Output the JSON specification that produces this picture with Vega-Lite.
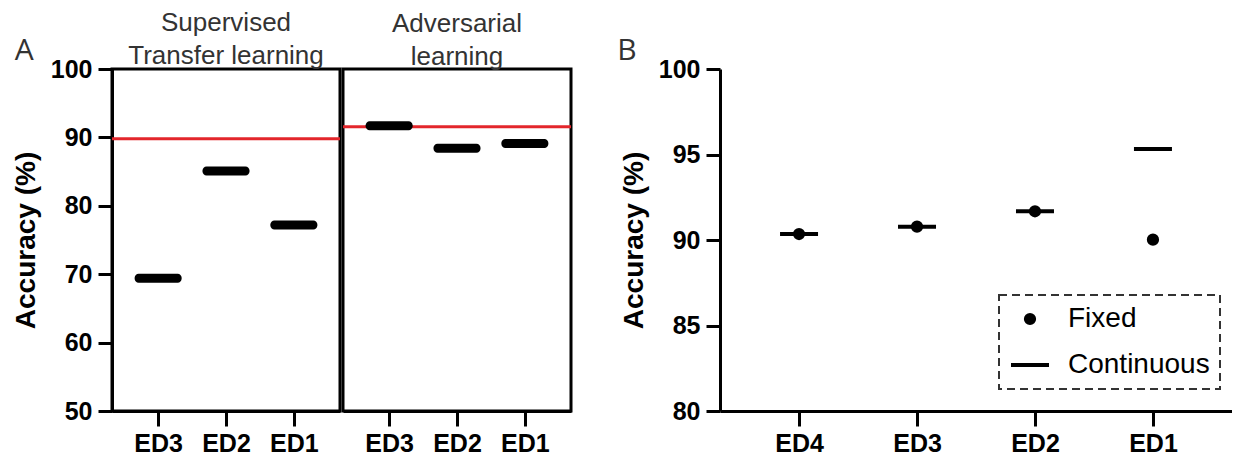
{
  "$schema": "https://vega.github.io/schema/vega-lite/v6.json",
  "background": "white",
  "padding": {"left": 10, "top": 8, "right": 0, "bottom": 0},
  "spacing": 43,
  "config": {
    "font": "Liberation Sans",
    "view": {"stroke": "black", "strokeWidth": 3},
    "axis": {
      "domainColor": "black", "domainWidth": 3, "tickColor": "black", "tickWidth": 3,
      "grid": false, "labelFont": "Liberation Sans", "labelFontWeight": "bold", "labelColor": "black",
      "labelFontSize": 25, "titleFont": "Liberation Sans", "titleFontWeight": "bold", "titleColor": "black",
      "titleFontSize": 28
    },
    "axisX": {"tickSize": 15, "labelPadding": 5, "labelAngle": 0, "title": null},
    "axisY": {"tickSize": 14, "labelPadding": 6, "titlePadding": 10},
    "title": {"font": "Liberation Sans", "fontSize": 26, "fontWeight": "normal", "color": "#333333", "lineHeight": 33}
  },
  "datasets": {
    "panelA": [
      {"method": "Supervised Transfer learning", "dataset": "ED3", "accuracy": 69.4},
      {"method": "Supervised Transfer learning", "dataset": "ED2", "accuracy": 85.1},
      {"method": "Supervised Transfer learning", "dataset": "ED1", "accuracy": 77.2},
      {"method": "Adversarial learning", "dataset": "ED3", "accuracy": 91.7},
      {"method": "Adversarial learning", "dataset": "ED2", "accuracy": 88.4},
      {"method": "Adversarial learning", "dataset": "ED1", "accuracy": 89.1}
    ],
    "baselines": [
      {"method": "Supervised Transfer learning", "baseline": 89.8},
      {"method": "Adversarial learning", "baseline": 91.55}
    ],
    "panelB": [
      {"dataset": "ED4", "type": "Continuous", "accuracy": 90.35},
      {"dataset": "ED3", "type": "Continuous", "accuracy": 90.78},
      {"dataset": "ED2", "type": "Continuous", "accuracy": 91.68},
      {"dataset": "ED1", "type": "Continuous", "accuracy": 95.32},
      {"dataset": "ED4", "type": "Fixed", "accuracy": 90.35},
      {"dataset": "ED3", "type": "Fixed", "accuracy": 90.78},
      {"dataset": "ED2", "type": "Fixed", "accuracy": 91.68},
      {"dataset": "ED1", "type": "Fixed", "accuracy": 90.02}
    ]
  },
  "hconcat": [
    {
      "title": {"text": "A", "anchor": "start", "frame": "bounds", "font": "Open Sans", "fontSize": 30, "fontWeight": "normal", "color": "#333333", "baseline": "bottom", "offset": 0, "dy": 87, "dx": 4},
      "spacing": -3,
      "hconcat": [
        {
          "title": {"text": ["Supervised", "Transfer learning"], "offset": -12},
          "width": 228,
          "height": 342,
          "layer": [
            {
              "data": {"name": "baselines"},
              "transform": [{"filter": "datum.method === 'Supervised Transfer learning'"}],
              "mark": {"type": "rule", "color": "#e3262b", "strokeWidth": 3},
              "encoding": {
                "y": {"field": "baseline", "type": "quantitative", "scale": {"domain": [50, 100], "nice": false}}
              }
            },
            {
              "data": {"name": "panelA"},
              "transform": [{"filter": "datum.method === 'Supervised Transfer learning'"}],
              "mark": {"type": "tick", "color": "black", "thickness": 9, "size": 47, "cornerRadius": 4, "opacity": 1},
              "encoding": {
                "x": {"field": "dataset", "type": "nominal", "sort": ["ED3", "ED2", "ED1"], "scale": {"type": "point", "padding": 0.68}},
                "y": {"field": "accuracy", "type": "quantitative", "scale": {"domain": [50, 100], "nice": false},
                      "axis": {"values": [50, 60, 70, 80, 90, 100], "title": "Accuracy (%)"}}
              }
            }
          ]
        },
        {
          "title": {"text": ["Adversarial", "learning"], "offset": -1},
          "width": 228,
          "height": 342,
          "layer": [
            {
              "data": {"name": "baselines"},
              "transform": [{"filter": "datum.method === 'Adversarial learning'"}],
              "mark": {"type": "rule", "color": "#e3262b", "strokeWidth": 3},
              "encoding": {
                "y": {"field": "baseline", "type": "quantitative", "scale": {"domain": [50, 100], "nice": false}, "axis": null}
              }
            },
            {
              "data": {"name": "panelA"},
              "transform": [{"filter": "datum.method === 'Adversarial learning'"}],
              "mark": {"type": "tick", "color": "black", "thickness": 9, "size": 47, "cornerRadius": 4, "opacity": 1},
              "encoding": {
                "x": {"field": "dataset", "type": "nominal", "sort": ["ED3", "ED2", "ED1"], "scale": {"type": "point", "padding": 0.68}},
                "y": {"field": "accuracy", "type": "quantitative", "scale": {"domain": [50, 100], "nice": false}, "axis": null}
              }
            }
          ]
        }
      ]
    },
    {
      "title": {"text": "B", "anchor": "start", "frame": "bounds", "font": "Open Sans", "fontSize": 30, "fontWeight": "normal", "color": "#333333", "baseline": "bottom", "offset": -39, "dx": -3},
      "width": 512,
      "height": 342,
      "view": {"stroke": null},
      "data": {"name": "panelB"},
      "mark": {"type": "point", "filled": false, "color": "black", "fill": "black", "stroke": "black", "strokeWidth": 4, "opacity": 1, "fillOpacity": 1},
      "encoding": {
        "x": {"field": "dataset", "type": "nominal", "sort": ["ED4", "ED3", "ED2", "ED1"], "scale": {"type": "point", "padding": 0.67}},
        "y": {"field": "accuracy", "type": "quantitative", "scale": {"domain": [80, 100], "nice": false},
              "axis": {"values": [80, 85, 90, 95, 100], "title": "Accuracy (%)"}},
        "shape": {"field": "type", "type": "nominal", "scale": {"domain": ["Fixed", "Continuous"], "range": ["circle", "stroke"]},
                  "legend": {"title": null, "orient": "none", "legendX": 887, "legendY": 226, "padding": 10, "strokeColor": "#333333",
                             "labelFont": "Liberation Sans", "labelFontSize": 28, "labelColor": "black", "labelOffset": 17, "rowPadding": 11,
                             "symbolStrokeWidth": 4, "symbolStrokeColor": "black", "symbolFillColor": "black",
                             "encoding": {"legend": {"strokeDash": {"value": [8, 5]}, "strokeWidth": {"value": 2}},
                                          "symbols": {"stroke": {"value": "black"}, "fill": {"value": "black"}}}}},
        "size": {"field": "type", "type": "nominal", "scale": {"domain": ["Fixed", "Continuous"], "range": [68, 1444]}}
      }
    }
  ]
}
